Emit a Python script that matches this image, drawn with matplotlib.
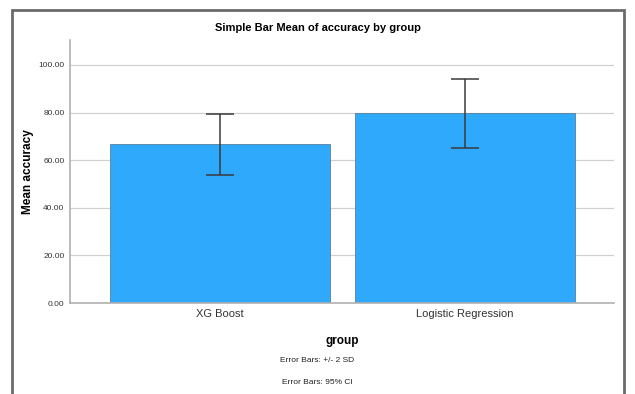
import matplotlib
matplotlib.use("Agg")
import matplotlib.pyplot as plt
from matplotlib.patches import Rectangle

plt.rcParams['font.family'] = ['Liberation Sans', 'DejaVu Sans']

groups = ["XG Boost", "Logistic Regression"]
mean_accuracy = [66.8, 79.8]
error_low = [12.9, 14.5]
error_high = [12.6, 14.2]
yticks = [0, 20, 40, 60, 80, 100]

fig = plt.figure(figsize=(6.35, 3.94), dpi=100)
fig.patch.set_facecolor('white')

# outer frame
fig.patches.append(Rectangle((12/635, -0.05), 612/635, 1 - 10/394 + 0.05,
                             transform=fig.transFigure, fill=False,
                             edgecolor='#6b6b6b', linewidth=2))

ax = fig.add_axes([70/635, 1 - 303/394, 544/635, 263/394])
x = range(len(groups))
ax.bar(x, mean_accuracy, width=0.898, color='#2ea9fc', edgecolor='#5a7f99',
       linewidth=0.6, zorder=2)
ax.errorbar(x, mean_accuracy, yerr=[error_low, error_high], fmt='none',
            ecolor='#3a3a3a', elinewidth=1.1, capsize=10, capthick=1.1, zorder=3)

ax.set_xlim(-0.612, 1.608)
ax.set_ylim(0, 110.5)
ax.set_yticks(yticks)
ax.set_yticklabels(["%.2f" % v for v in yticks], fontsize=6, color='#333333')
ax.set_xticks(list(x))
ax.set_xticklabels(groups, fontsize=8, color='#333333')
ax.tick_params(axis='both', length=0, pad=4)
ax.grid(axis='y', color='#d0d0d0', linewidth=0.9, zorder=0)
ax.set_axisbelow(True)
for s in ['top', 'right']:
    ax.spines[s].set_visible(False)
for s in ['left', 'bottom']:
    ax.spines[s].set_color('#b0b0b0')
    ax.spines[s].set_linewidth(1.2)

ax.set_ylabel("Mean accuracy", fontsize=8.5, fontweight='bold', labelpad=3)
ax.set_xlabel("group", fontsize=8.5, fontweight='bold', labelpad=12)

fig.text(0.5, 1 - 28/394, "Simple Bar Mean of accuracy by group",
         ha='center', va='center', fontsize=8, fontweight='bold')
fig.text(0.5, 1 - 361/394, "Error Bars: +/- 2 SD", ha='center', va='center',
         fontsize=6, color='#222222')
fig.text(0.5, 1 - 383/394, "Error Bars: 95% CI", ha='center', va='center',
         fontsize=6, color='#222222')

fig.savefig("out.png", dpi=100)
